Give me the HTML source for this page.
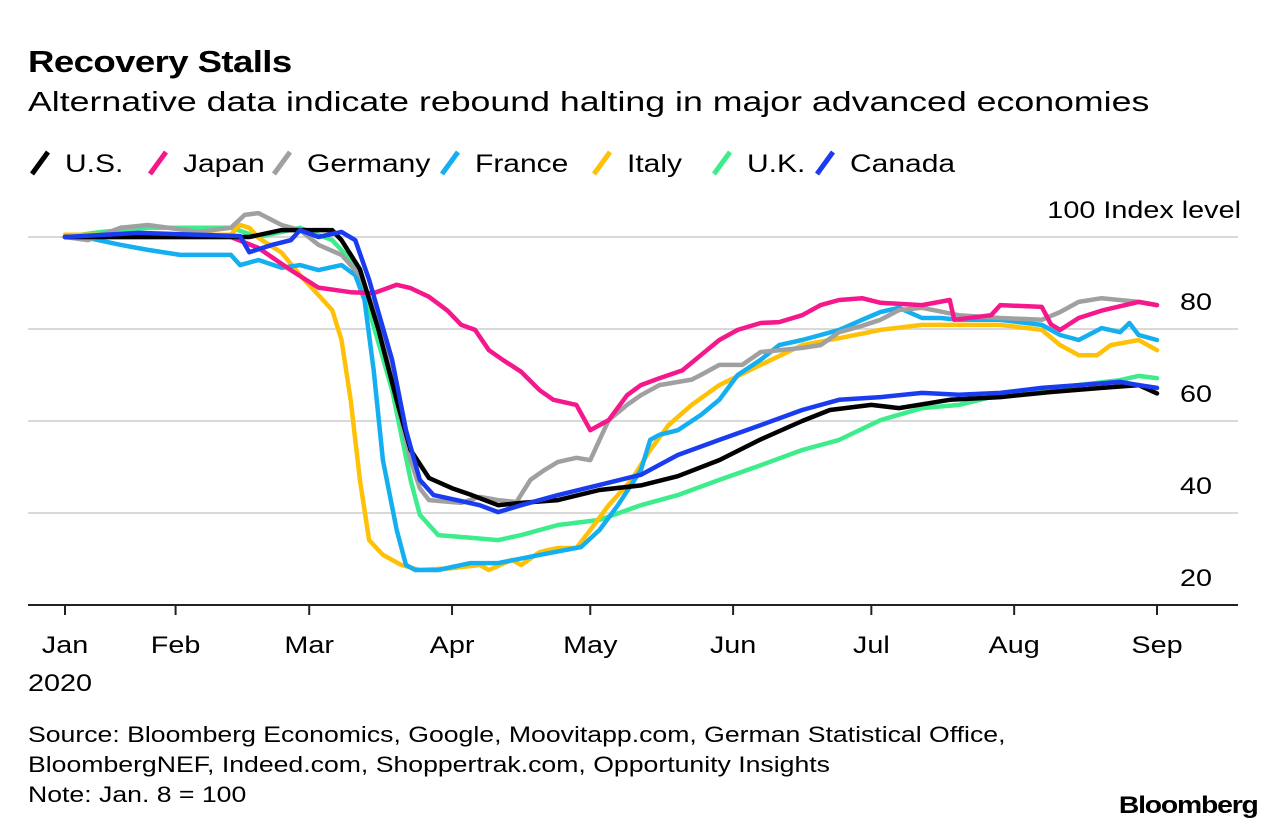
<!DOCTYPE html>
<html><head><meta charset="utf-8">
<style>
body{margin:0;background:#fff;font-family:"Liberation Sans",Arial,sans-serif;}
#wrap{position:relative;width:1286px;height:832px;overflow:hidden;background:#fff}
.t{position:absolute;white-space:nowrap;color:#000;transform:scaleX(1.2);transform-origin:left top}
</style></head><body>
<div id="wrap">
<div class="t" style="left:28px;top:44px;font-size:31px;font-weight:bold;letter-spacing:-0.5px;transform:scaleX(1.18)">Recovery Stalls</div>
<div class="t" style="left:28px;top:86px;font-size:28px;transform:scaleX(1.275)">Alternative data indicate rebound halting in major advanced economies</div>
<svg id="chart" width="1286" height="832" style="position:absolute;left:0;top:0"></svg>
<div class="t" style="left:28px;top:720px;font-size:22px;line-height:30px;transform:scaleX(1.21)">Source: Bloomberg Economics, Google, Moovitapp.com, German Statistical Office,<br>BloombergNEF, Indeed.com, Shoppertrak.com, Opportunity Insights<br>Note: Jan. 8 = 100</div>
<div class="t" style="right:28px;top:792px;font-size:24px;font-weight:bold;letter-spacing:-1px;transform:scaleX(1.18);transform-origin:right top">Bloomberg</div>
</div>
<script>
const seriesNames=["U.S.","Japan","Germany","France","Italy","U.K.","Canada"];
const seriesColors=["#000000","#f5188c","#a0a0a0","#14aff0","#ffc107","#3ded8c","#1a3cf0"];
const monthLabels=["Jan","Feb","Mar","Apr","May","Jun","Jul","Aug","Sep"];
const monthDays=[7,31,60,91,121,152,182,213,244];
const yTicks=[100,80,60,40,20];
const usDays=[7,47,54,65,67,71,75,79,82,86,91,95,101,106,114,123,132,140,149,158,167,173,182,188,199,210,221,232,240,244];
const usVals=[100,100,101.5,101.5,99.3,93,80,64.5,53.7,47.6,45.4,44,41.7,42.2,42.8,45,46,48,51.5,56,60,62.4,63.5,62.8,64.6,65.2,66.3,67.2,67.8,66];
const jpDays=[7,43,49,56,62,69,74,79,82,86,90,93,96,99,102,106,110,113,118,121,123,125,129,132,136,141,145,149,153,158,162,167,171,175,180,184,193,199,200,208,210,219,221,223,227,232,240,244];
const jpVals=[100,100,97.6,92.8,89,88,87.8,89.6,88.9,87,84,80.9,79.8,75.4,73.3,70.7,66.7,64.6,63.5,58,59.1,60.2,65.6,67.8,69.3,71,74.3,77.6,79.8,81.3,81.5,83,85.2,86.3,86.7,85.7,85.2,86.3,82,83,85.2,84.8,81,79.8,82.4,84,85.9,85.2];
const deDays=[7,12,19,25,36,43,46,49,54,58,62,67,71,75,79,82,84,86,93,97,101,105,108,111,114,118,121,123,125,129,132,136,143,145,149,154,158,162,167,171,175,180,184,188,193,201,210,219,223,227,232,240,244];
const deVals=[100,99.3,102,102.6,101.1,102,104.8,105.2,102.6,101.5,98.3,96.1,91.7,82,64.5,51.5,45.4,42.8,42.2,43.5,42.8,42.4,47.2,49.3,51.1,52,51.5,55.9,60.2,63.5,65.6,67.8,69,70,72.2,72.2,75,75.4,75.9,76.5,79.3,80.7,82,84.1,84.6,83,82.4,82,83.7,85.9,86.7,85.9,85.2];
const frDays=[7,12,19,25,32,43,45,49,54,58,62,67,70,72,74,76,79,81,83,88,95,101,110,119,123,127,132,134,136,140,145,149,153,158,162,167,171,175,180,184,188,193,197,201,210,219,223,227,232,236,238,240,244];
const frVals=[100,99.8,98.3,97.2,96.1,96.1,93.9,95,93.3,93.9,92.8,93.9,91.7,86.3,71,51.5,36.3,28.7,27.6,27.6,29.1,29.1,30.9,32.6,36.3,41.7,49.3,55.9,57,58,61.3,64.6,70,73.3,76.5,77.6,78.7,79.8,82,83.7,84.6,82.4,82.4,82,82,80.9,78.7,77.6,80.2,79.3,81.3,78.7,77.6];
const itDays=[7,43,45,47,49,54,58,62,65,67,69,71,73,76,80,84,91,97,99,104,106,110,114,118,121,125,130,134,138,143,149,158,167,175,184,193,201,210,219,223,227,231,234,240,244];
const itVals=[100.5,100.5,102.6,102,99.8,96.6,91.7,87.4,84.1,77.6,64.5,47.2,34.1,30.9,28.7,27.6,28,28.7,27.6,29.8,28.7,31.5,32.4,32.4,36.3,41.7,47.2,53.7,59.1,63.5,67.8,72.2,76.5,78,79.8,80.9,80.9,80.9,79.8,76.5,74.3,74.3,76.5,77.6,75.4];
const ukDays=[7,15,25,43,49,58,65,69,73,78,82,84,88,95,101,106,114,123,132,140,149,158,167,175,184,193,201,210,219,227,236,240,244];
const ukVals=[100,101.1,102,102,100,102,99.3,95,84.1,66.7,47.2,39.6,35.2,34.6,34.1,35.2,37.4,38.5,41.7,43.9,47.2,50.4,53.7,55.9,60.2,62.8,63.5,65.7,66.7,67.8,68.9,69.8,69.3];
const caDays=[7,23,45,47,52,56,58,62,67,70,73,78,81,84,87,92,97,101,106,114,123,132,140,149,158,167,175,184,193,201,210,219,227,236,240,244];
const caVals=[100,100.9,100.2,96.7,98.3,99.3,101.5,100,101.1,99.3,90.7,73.3,58,47.2,43.9,42.8,41.7,40.2,41.7,43.9,46.1,48.3,52.6,55.9,59.1,62.4,64.6,65.2,66.1,65.7,66.1,67.2,67.8,68.5,67.8,67.2];

const allDays=[usDays,jpDays,deDays,frDays,itDays,ukDays,caDays];
const allVals=[usVals,jpVals,deVals,frVals,itVals,ukVals,caVals];
const NS="http://www.w3.org/2000/svg";
const svg=document.getElementById('chart');
const X0=65,X1=1157,D0=7,D1=244;
function xScale(d){return X0+(d-D0)*(X1-X0)/(D1-D0);}
function yScale(v){return 237+(100-v)*4.6;}
function mk(tag,attrs){const e=document.createElementNS(NS,tag);for(const k in attrs)e.setAttribute(k,attrs[k]);svg.appendChild(e);return e;}
function txt(x,y,size,anchor,sx){
  return mk('text',{x:0,y:0,transform:'translate('+x+','+y+') scale('+sx+',1)','text-anchor':anchor,'font-size':size,'font-family':'Liberation Sans, Arial, sans-serif',fill:'#000'});
}
yTicks.forEach((v,i)=>{
  if(v>20){
    const g=mk('line',{x1:28,x2:1238,y1:yScale(v),y2:yScale(v),stroke:'#d9d9d9','stroke-width':2});
    
    
  }
  const t=txt(v===100?1241:1212,yScale(v)-19,24,'end',1.2);
  t.textContent=v===100?'100 Index level':String(v);
  
  
});
const ax=mk('line',{x1:28,x2:1238,y1:605,y2:605,stroke:'#222','stroke-width':2});


monthLabels.forEach((m,i)=>{
  const x=xScale(monthDays[i]);
  const tk=mk('line',{x1:x,x2:x,y1:605,y2:615,stroke:'#222','stroke-width':2});
  
  
  const t=txt(x,653,24,'middle',1.2);
  t.textContent=m;
  
  
});
const yr=txt(28,691,24,'start',1.2);
yr.textContent='2020';


const order=[5,4,3,2,1,0,6];
order.forEach(i=>{
  const d=allDays[i],v=allVals[i];
  let p='';
  for(let k=0;k<d.length;k++)p+=(k?'L':'M')+xScale(d[k]).toFixed(1)+' '+yScale(v[k]).toFixed(1);
  const path=mk('path',{d:p,fill:'none',stroke:seriesColors[i],'stroke-width':4.5,'stroke-linejoin':'round','stroke-linecap':'round'});
  
  
});
const legX=[30,148,272,440,592,712,815];
seriesNames.forEach((n,i)=>{
  const x=legX[i];
  const s=mk('line',{x1:x+2,y1:174,x2:x+18,y2:152,stroke:seriesColors[i],'stroke-width':5,'stroke-linecap':'butt'});
  
  
  const t=txt(x+35,172,25,'start',1.2);
  t.textContent=n;
  
  
});
</script>
</body></html>
